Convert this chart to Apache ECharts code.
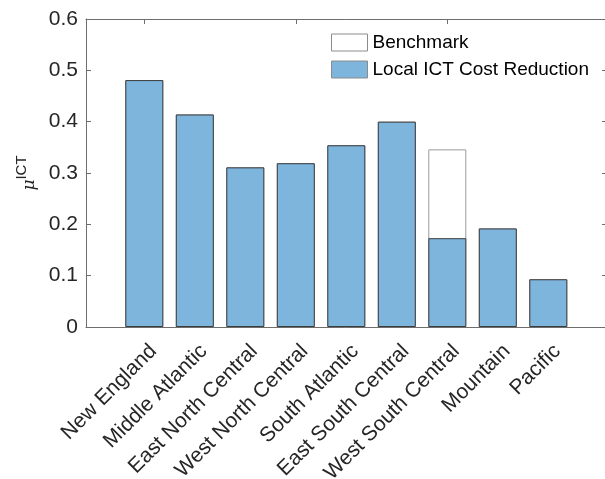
<!DOCTYPE html>
<html>
<head>
<meta charset="utf-8">
<script src="https://cdn.jsdelivr.net/npm/echarts@6/dist/echarts.min.js"></script>
<style>
  html, body { margin: 0; padding: 0; background: #fff; }
  #chart { width: 605px; height: 479px; }
</style>
</head>
<body>
<div id="chart"></div>
<script>
// Census divisions
const categories = [
  'New England', 'Middle Atlantic', 'East North Central', 'West North Central',
  'South Atlantic', 'East South Central', 'West South Central', 'Mountain', 'Pacific'
];
// Benchmark share (drawn behind)
const benchmark = [0.481, 0.414, 0.311, 0.319, 0.354, 0.400, 0.346, 0.192, 0.093];
// Share after local ICT cost reduction
const localReduction = [0.481, 0.414, 0.311, 0.319, 0.354, 0.400, 0.173, 0.192, 0.093];
// Y tick values
const yTicks = [0, 0.1, 0.2, 0.3, 0.4, 0.5, 0.6];

const FONT = '"Liberation Sans", Arial, Helvetica, sans-serif';
const AXIS = '#6e6e6e';
const TEXT = '#262626';

const chart = echarts.init(document.getElementById('chart'), null, { renderer: 'canvas' });

const plotTop = 19, plotHeight = 308;
const barLeft = 119.05, barSpan = 454.5;

// frame lines (no ticks, no labels)
const frameX = pos => ({
  gridIndex: 1, type: 'value', min: 0, max: 1, position: pos,
  axisLine: { show: true, onZero: false, lineStyle: { color: AXIS, width: 1 } },
  axisTick: { show: false }, axisLabel: { show: false }, splitLine: { show: false }
});
// category ticks pointing into the plot
const catTicks = pos => ({
  gridIndex: 0, type: 'category', data: categories, position: pos,
  axisLine: { show: false, onZero: false },
  axisTick: { show: true, inside: true, alignWithLabel: true, length: 5, lineStyle: { color: AXIS } },
  axisLabel: { show: false },
  splitLine: { show: false }
});

chart.setOption({
  animation: false,
  backgroundColor: '#fff',
  textStyle: { fontFamily: FONT },
  legend: {
    orient: 'vertical',
    left: 326,
    top: 28,
    icon: 'rect',
    itemWidth: 36,
    itemHeight: 17,
    itemGap: 8,
    itemStyle: { borderColor: '#8c8c8c', borderWidth: 1 },
    textStyle: { fontSize: 19, lineHeight: 17, color: '#000', fontFamily: FONT },
    data: ['Benchmark', 'Local ICT Cost Reduction']
  },
  grid: [
    // bar area: one band per division
    { left: barLeft, width: barSpan, top: plotTop, height: plotHeight, outerBoundsMode: 'none' },
    // axes frame
    { left: 86, width: 521, top: plotTop, height: plotHeight, outerBoundsMode: 'none' },
    // slanted division names, hung just right of each tick
    { left: barLeft + 9, width: barSpan, top: plotTop, height: plotHeight, outerBoundsMode: 'none' }
  ],
  xAxis: [
    catTicks('bottom'),
    catTicks('top'),
    frameX('bottom'),
    frameX('top'),
    {
      gridIndex: 2, type: 'category', data: categories, position: 'bottom',
      axisLine: { show: false, onZero: false },
      axisTick: { show: false },
      axisLabel: { rotate: 45, fontSize: 21, color: TEXT, margin: 21, fontFamily: FONT, interval: 0 },
      splitLine: { show: false }
    }
  ],
  yAxis: [
    { gridIndex: 0, type: 'value', min: 0, max: 0.6, show: false },
    {
      gridIndex: 1, type: 'value', min: 0, max: 0.6, interval: 0.1, position: 'left',
      axisLine: { show: true, onZero: false, lineStyle: { color: AXIS, width: 1 } },
      axisTick: { show: true, inside: true, length: 5, lineStyle: { color: AXIS } },
      axisLabel: {
        fontSize: 21, color: TEXT, margin: 8, fontFamily: FONT,
        formatter: v => {
          const t = yTicks.find(k => Math.abs(k - v) < 1e-9);
          return t === 0 ? '0' : (t !== undefined ? t.toFixed(1) : '');
        }
      },
      splitLine: { show: false },
      name: '{m|\u03bc}{s|ICT}',
      nameLocation: 'middle',
      nameRotate: 90,
      nameGap: 43,
      nameTextStyle: {
        rich: {
          m: { fontSize: 17, fontStyle: 'italic', fontFamily: '"DejaVu Serif", serif', color: TEXT, verticalAlign: 'bottom', lineHeight: 24 },
          s: { fontSize: 15, fontFamily: FONT, color: TEXT, verticalAlign: 'top', lineHeight: 24 }
        }
      }
    },
    {
      gridIndex: 1, type: 'value', min: 0, max: 0.6, interval: 0.1, position: 'right',
      axisLine: { show: true, onZero: false, lineStyle: { color: AXIS, width: 1 } },
      axisTick: { show: true, inside: true, length: 5, lineStyle: { color: AXIS } },
      axisLabel: { show: false },
      splitLine: { show: false }
    },
    { gridIndex: 2, type: 'value', min: 0, max: 0.6, show: false }
  ],
  series: [
    {
      name: 'Benchmark', type: 'bar', xAxisIndex: 0, yAxisIndex: 0,
      data: benchmark, barWidth: 38, z: 2,
      itemStyle: { color: '#ffffff', borderColor: '#9a9a9a', borderWidth: 1 }
    },
    {
      name: 'Local ICT Cost Reduction', type: 'bar', xAxisIndex: 0, yAxisIndex: 0,
      data: localReduction, barWidth: 38, barGap: '-100%', z: 3,
      itemStyle: { color: '#7db5dd', borderColor: '#3c3c3c', borderWidth: 1 }
    }
  ]
});
</script>
</body>
</html>
